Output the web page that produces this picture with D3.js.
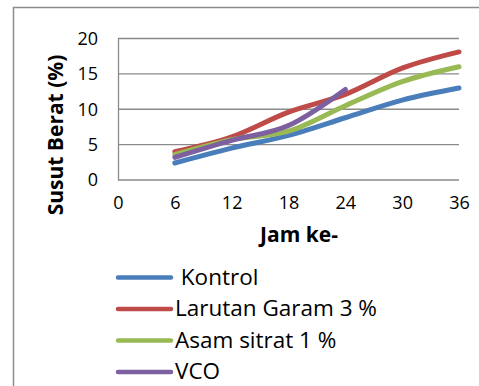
<!DOCTYPE html>
<html>
<head>
<meta charset="utf-8">
<script src="https://cdn.jsdelivr.net/npm/d3@7"></script>
<style>
  html, body { margin: 0; padding: 0; background: #fff; }
  svg { display: block; font-family: "Open Sans", "Liberation Sans", sans-serif; }
</style>
</head>
<body>
<svg id="chart" width="479" height="386"></svg>
<script>
// Weight loss (%) of each treatment over storage time
const hours = [6, 12, 18, 24, 30, 36];
const kontrol = [2.4, 4.5, 6.3, 8.8, 11.3, 13.0];
const garam = [4.0, 6.1, 9.6, 12.1, 15.8, 18.1];
const sitrat = [3.6, 5.7, 6.9, 10.5, 13.9, 16.0];
const vco = [3.2, 5.6, 7.7, 12.8];
const xTicks = [0, 6, 12, 18, 24, 30, 36];
const yTicks = [0, 5, 10, 15, 20];
const seriesNames = [" Kontrol", "Larutan Garam 3 %", "Asam sitrat 1 %", "VCO"];
const seriesColors = ["#4A7EBB", "#BE4B48", "#98B954", "#7D60A0"];
const seriesValues = [kontrol, garam, sitrat, vco];

const svg = d3.select("#chart");

// outer frame
svg.append("rect")
  .attr("x", 13.5).attr("y", 7.5)
  .attr("width", 500).attr("height", 400)
  .attr("fill", "#fff").attr("stroke", "#8c8c8c").attr("stroke-width", 1.5);

const plot = { left: 118, right: 459, top: 38.5, bottom: 180 };
const x = d3.scaleLinear().domain([0, 36]).range([plot.left, plot.right]);
const y = d3.scaleLinear().domain([0, 20]).range([plot.bottom, plot.top]);

// horizontal gridlines
svg.append("g")
  .selectAll("line")
  .data(yTicks)
  .join("line")
  .attr("x1", plot.left).attr("x2", plot.right)
  .attr("y1", d => y(d)).attr("y2", d => y(d))
  .attr("stroke", "#8a8a8a").attr("stroke-width", 1.3);

// left axis line
svg.append("line")
  .attr("x1", plot.left + 0.5).attr("x2", plot.left + 0.5)
  .attr("y1", plot.top).attr("y2", plot.bottom + 0.5)
  .attr("stroke", "#8a8a8a").attr("stroke-width", 1.3);

// y tick labels
const yAxis = d3.axisLeft(y).tickValues(yTicks).tickSize(0).tickPadding(20);
const gy = svg.append("g").attr("transform", `translate(${plot.left},0)`).call(yAxis);
gy.select(".domain").remove();
gy.selectAll("text").attr("font-size", 18).attr("fill", "#000")
  .attr("font-family", "'Open Sans', sans-serif");

// x tick labels
const xAxis = d3.axisBottom(x).tickValues(xTicks).tickSize(0).tickPadding(16);
const gx = svg.append("g").attr("transform", `translate(0,${plot.bottom})`).call(xAxis);
gx.select(".domain").remove();
gx.selectAll("text").attr("font-size", 18).attr("fill", "#000")
  .attr("font-family", "'Open Sans', sans-serif");

// axis titles
svg.append("text")
  .attr("transform", "translate(63,135) rotate(-90)")
  .attr("text-anchor", "middle")
  .attr("font-size", 21).attr("font-weight", "bold")
  .text("Susut Berat (%)");

svg.append("text")
  .attr("x", 299).attr("y", 242)
  .attr("text-anchor", "middle")
  .attr("font-size", 21).attr("font-weight", "bold")
  .text("Jam ke-");

// smoothed series lines
const line = d3.line()
  .x((d, i) => x(hours[i]))
  .y(d => y(d))
  .curve(d3.curveCardinal.tension(0));

svg.append("g")
  .selectAll("path")
  .data(seriesValues)
  .join("path")
  .attr("d", d => line(d))
  .attr("fill", "none")
  .attr("stroke", (d, i) => seriesColors[i])
  .attr("stroke-width", 5)
  .attr("stroke-linecap", "round")
  .attr("stroke-linejoin", "round");

// legend
const legend = svg.append("g")
  .selectAll("g")
  .data(seriesNames)
  .join("g")
  .attr("transform", (d, i) => `translate(0,${277.5 + i * 31.5})`);

legend.append("line")
  .attr("x1", 118).attr("x2", 171)
  .attr("stroke", (d, i) => seriesColors[i])
  .attr("stroke-width", 4.5)
  .attr("stroke-linecap", "round");

legend.append("text")
  .attr("x", 175).attr("y", 7)
  .attr("font-size", 22.5)
  .attr("xml:space", "preserve")
  .style("white-space", "pre")
  .text(d => d);
</script>
</body>
</html>
